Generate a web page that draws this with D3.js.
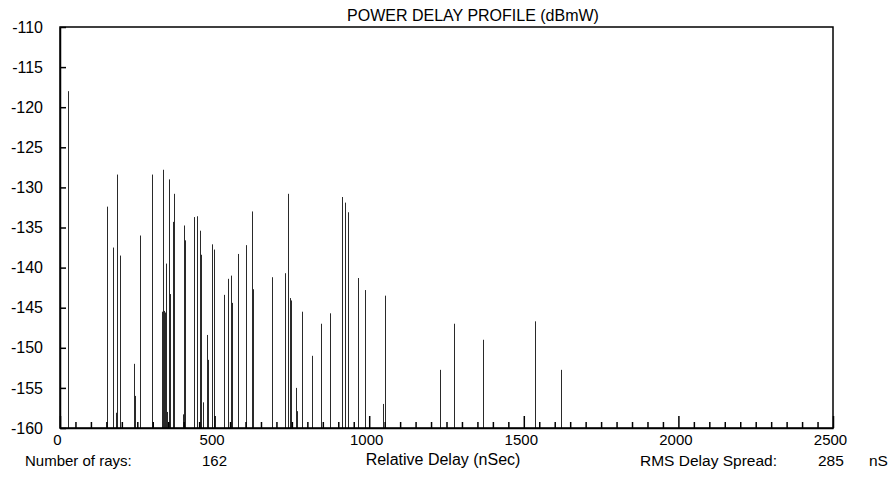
<!DOCTYPE html>
<html>
<head>
<meta charset="utf-8">
<script src="https://cdn.jsdelivr.net/npm/d3@7"></script>
<style>
body { margin: 0; background: #fff; }
svg text { font-family: "Liberation Sans", Arial, sans-serif; fill: #000; }
</style>
</head>
<body>
<div id="chart"></div>
<script>
// relative delay of each ray (nSec)
var delays = [26, 152, 170, 182, 185, 194, 239, 242, 258, 260,
  298, 331, 333, 336, 338, 340, 343, 344, 346, 353, 356, 364, 370,
  397, 400, 404, 434, 443, 448, 453, 456, 461, 476,
  480, 491, 499, 530, 532, 544, 554, 555, 577, 601,
  621, 624, 687, 727, 738, 744, 747, 763, 767, 784,
  816, 844, 872, 911, 921, 931, 965, 985, 987, 1044,
  1050, 1228, 1273, 1369, 1537, 1620];
// received power of each ray (dBmW)
var powers = [-118, -132.4, -137.5, -158.1, -128.4, -138.5, -152, -156, -136, -140.2,
  -128.4, -145.5, -127.8, -145.4, -146, -145.6, -139.5, -147, -158, -129, -143.3, -134.3, -130.8,
  -158.3, -134.75, -136.6, -133.7, -133.6, -159.3, -135.4, -138.4, -156.8, -148.4,
  -151.5, -137.1, -137.75, -143.4, -156.5, -141.4, -141, -144.4, -138.3, -137.2,
  -133, -142.7, -141.2, -140.7, -130.8, -143.8, -144.1, -155, -157.9, -145.5,
  -151, -147, -145.7, -131.2, -131.9, -133.1, -141.3, -142.8, -147.3, -157,
  -143.5, -152.75, -147, -149, -146.7, -152.75];

var yTicks = [-110, -115, -120, -125, -130, -135, -140, -145, -150, -155, -160];
var xMajor = [0, 500, 1000, 1500, 2000, 2500];
var xMinor = d3.range(50, 2500, 50).filter(d => d % 500 != 0);

var title = "POWER DELAY PROFILE (dBmW)";
var xTitle = "Relative Delay (nSec)";
var numRays = "162";
var rmsSpread = "285";

var svgWidth = 891;
var svgHeight = 481;
var margin = {top: 27, right: 58, bottom: 53, left: 60};
var width = svgWidth - margin.left - margin.right;
var height = svgHeight - margin.top - margin.bottom;

var svg = d3.select("#chart")
  .append("svg")
  .attr("width", svgWidth)
  .attr("height", svgHeight);

var chartGroup = svg.append("g")
  .attr("transform", `translate(${margin.left}, ${margin.top})`);

var xScale = d3.scaleLinear()
  .domain([0, 2500])
  .range([0, width]);

var yScale = d3.scaleLinear()
  .domain([-160, -110])
  .range([height, 0]);

// rays
chartGroup.selectAll("line.ray")
  .data(delays)
  .enter()
  .append("line")
  .attr("class", "ray")
  .attr("x1", d => Math.round(xScale(d)) + 0.5)
  .attr("x2", d => Math.round(xScale(d)) + 0.5)
  .attr("y1", yScale(-160))
  .attr("y2", (d, i) => yScale(powers[i]))
  .attr("stroke", "#2a2a2a")
  .attr("stroke-width", 1);

// minor ticks along the delay axis
chartGroup.append("g")
  .attr("transform", `translate(0, ${height})`)
  .call(d3.axisBottom(xScale).tickValues(xMinor).tickFormat("").tickSize(-6).tickSizeOuter(0))
  .call(g => g.select(".domain").remove())
  .selectAll("line").attr("stroke", "#000").attr("stroke-width", 1.5);

var xAxis = chartGroup.append("g")
  .attr("transform", `translate(0, ${height})`)
  .call(d3.axisBottom(xScale).tickValues(xMajor).tickFormat(d3.format("d")).tickSize(-12).tickSizeOuter(0).tickPadding(6));
xAxis.selectAll("text").attr("font-size", 15).attr("dx", -3);

var yAxis = chartGroup.append("g")
  .call(d3.axisLeft(yScale).tickValues(yTicks).tickFormat(d => d).tickSize(-6).tickSizeOuter(0).tickPadding(17));
yAxis.selectAll("text").attr("font-size", 16);

svg.selectAll(".domain").attr("stroke", "#000").attr("stroke-width", 1.5);
svg.selectAll(".tick line").attr("stroke", "#000").attr("stroke-width", 1.5);

// frame
chartGroup.append("rect")
  .attr("x", 0)
  .attr("y", 0)
  .attr("width", width)
  .attr("height", height)
  .attr("fill", "none")
  .attr("stroke", "#000")
  .attr("stroke-width", 1.5);

svg.append("text")
  .attr("x", 473)
  .attr("y", 21)
  .attr("text-anchor", "middle")
  .attr("font-size", 16)
  .text(title);

svg.append("text")
  .attr("x", 443)
  .attr("y", 465)
  .attr("text-anchor", "middle")
  .attr("font-size", 16)
  .text(xTitle);

svg.append("text").attr("x", 25).attr("y", 466).attr("font-size", 15).text("Number of rays:");
svg.append("text").attr("x", 202).attr("y", 466).attr("font-size", 15).text(numRays);
svg.append("text").attr("x", 640).attr("y", 466).attr("font-size", 15.5).text("RMS Delay Spread:");
svg.append("text").attr("x", 818).attr("y", 466).attr("font-size", 15.5).text(rmsSpread);
svg.append("text").attr("x", 869).attr("y", 466).attr("font-size", 15.5).text("nS");
</script>
</body>
</html>
